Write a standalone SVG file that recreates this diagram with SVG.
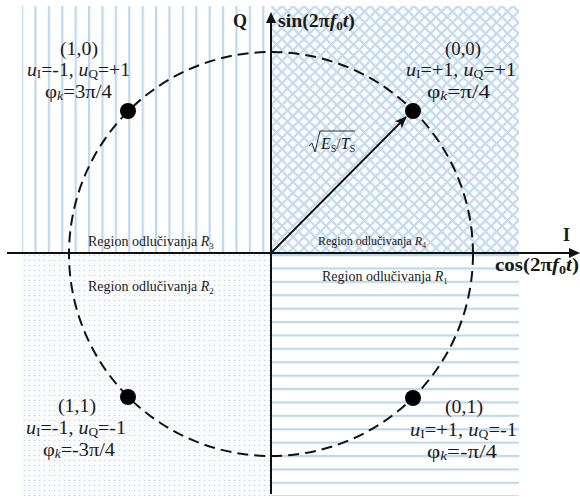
<svg xmlns="http://www.w3.org/2000/svg" width="580" height="499" viewBox="0 0 580 499">
<style>
text{font-family:"Liberation Serif","Times New Roman",serif;fill:#1a1a1a}
.lbl{font-size:18px}
.reg{font-size:14px}
.ax{font-weight:bold;font-size:18px}
.axis{stroke:#111;stroke-width:2;fill:none}
.circ{stroke:#111;stroke-width:2;fill:none;stroke-dasharray:11 6}
.dot{fill:#000}
</style>
<defs>
<pattern id="vs" patternUnits="userSpaceOnUse" x="21" y="0" width="13.4" height="10"><rect x="0" y="0" width="2.2" height="10" fill="#c0d8ec"/></pattern>
<pattern id="hs" patternUnits="userSpaceOnUse" x="0" y="254" width="10" height="13.4"><rect x="0" y="0" width="10" height="2.2" fill="#c0d8ec"/></pattern>
<pattern id="cr" patternUnits="userSpaceOnUse" x="271" y="6" width="11" height="11"><rect width="11" height="11" fill="#fafcfe"/><path d="M-1,-1 L12,12 M12,-1 L-1,12" stroke="#c6dbee" stroke-width="2.2"/></pattern>
<pattern id="dt" patternUnits="userSpaceOnUse" x="22" y="253" width="5" height="5"><rect width="5" height="5" fill="#fbfcfd"/><circle cx="2.5" cy="2.5" r="0.8" fill="#cdd6de"/></pattern>
<marker id="ah" markerWidth="12" markerHeight="10" refX="11" refY="5" orient="auto" markerUnits="userSpaceOnUse"><path d="M0,0 L12,5 L0,10 L3,5 Z" fill="#111"/></marker>
</defs>
<g id="regions">
<rect x="22" y="6" width="249" height="247" fill="#fff"/>
<rect x="22" y="6" width="249" height="247" fill="url(#vs)"/>
<rect x="271" y="6" width="248" height="247" fill="url(#cr)"/>
<rect x="22" y="253" width="249" height="243" fill="url(#dt)"/>
<rect x="271" y="253" width="248" height="243" fill="#fff"/>
<rect x="271" y="253" width="248" height="243" fill="url(#hs)"/>
</g>
<g id="axes">
<line class="axis" x1="271" y1="494" x2="271" y2="20"/>
<path d="M271,12 L266,23 L276,23 Z" fill="#111"/>
<line class="axis" x1="7" y1="253" x2="572" y2="253"/>
<path d="M580,253 L569,248 L569,258 Z" fill="#111"/>
<text class="ax" x="233" y="27">Q</text>
<text class="ax" x="278" y="27" textLength="77" lengthAdjust="spacingAndGlyphs">sin(2π<tspan font-style="italic">f</tspan><tspan font-size="12" dy="3">0</tspan><tspan font-style="italic" dy="-3">t</tspan>)</text>
<text class="ax" x="563" y="241">I</text>
<text class="ax" x="495" y="271" textLength="84" lengthAdjust="spacingAndGlyphs">cos(2π<tspan font-style="italic">f</tspan><tspan font-size="12" dy="3">0</tspan><tspan font-style="italic" dy="-3">t</tspan>)</text>
</g>
<circle class="circ" cx="271" cy="254" r="202"/>
<g id="connectors">
<line x1="271" y1="253" x2="406" y2="117" stroke="#111" stroke-width="1.8" marker-end="url(#ah)"/>
<g id="vec-label">
<path d="M309,146 L312,143 L315,152 L320,131 L355,131" stroke="#333" stroke-width="1" fill="none"/>
<text x="321" y="149" font-size="16"><tspan font-style="italic">E</tspan><tspan font-size="10" dy="3">S</tspan><tspan dy="-3">/</tspan><tspan font-style="italic">T</tspan><tspan font-size="10" dy="3">S</tspan></text>
</g>
</g>
<g id="p10">
<circle class="dot" cx="128" cy="111" r="8"/>
<text class="lbl" x="79" y="55" text-anchor="middle" textLength="38" lengthAdjust="spacingAndGlyphs">(1,0)</text>
<text class="lbl" x="78.5" y="76" text-anchor="middle" textLength="103" lengthAdjust="spacingAndGlyphs"><tspan font-style="italic">u</tspan><tspan font-size="12" dy="2">I</tspan><tspan dy="-2">=-1, </tspan><tspan font-style="italic">u</tspan><tspan font-size="12" dy="2">Q</tspan><tspan dy="-2">=+1</tspan></text>
<text class="lbl" x="78.5" y="98" text-anchor="middle" textLength="67" lengthAdjust="spacingAndGlyphs">φ<tspan font-size="12" font-style="italic" dy="2">k</tspan><tspan dy="-2">=3π/4</tspan></text>
</g>
<g id="p00">
<circle class="dot" cx="413" cy="111" r="8"/>
<text class="lbl" x="463" y="55" text-anchor="middle" textLength="36" lengthAdjust="spacingAndGlyphs">(0,0)</text>
<text class="lbl" x="461" y="76" text-anchor="middle" textLength="110" lengthAdjust="spacingAndGlyphs"><tspan font-style="italic">u</tspan><tspan font-size="12" dy="2">I</tspan><tspan dy="-2">=+1, </tspan><tspan font-style="italic">u</tspan><tspan font-size="12" dy="2">Q</tspan><tspan dy="-2">=+1</tspan></text>
<text class="lbl" x="458.5" y="98" text-anchor="middle" textLength="63" lengthAdjust="spacingAndGlyphs">φ<tspan font-size="12" font-style="italic" dy="2">k</tspan><tspan dy="-2">=π/4</tspan></text>
</g>
<g id="p11">
<circle class="dot" cx="128" cy="397" r="8"/>
<text class="lbl" x="77" y="412" text-anchor="middle" textLength="38" lengthAdjust="spacingAndGlyphs">(1,1)</text>
<text class="lbl" x="76" y="434" text-anchor="middle" textLength="100" lengthAdjust="spacingAndGlyphs"><tspan font-style="italic">u</tspan><tspan font-size="12" dy="2">I</tspan><tspan dy="-2">=-1, </tspan><tspan font-style="italic">u</tspan><tspan font-size="12" dy="2">Q</tspan><tspan dy="-2">=-1</tspan></text>
<text class="lbl" x="79" y="456" text-anchor="middle" textLength="72" lengthAdjust="spacingAndGlyphs">φ<tspan font-size="12" font-style="italic" dy="2">k</tspan><tspan dy="-2">=-3π/4</tspan></text>
</g>
<g id="p01">
<circle class="dot" cx="413" cy="398" r="8"/>
<text class="lbl" x="464" y="413" text-anchor="middle" textLength="38" lengthAdjust="spacingAndGlyphs">(0,1)</text>
<text class="lbl" x="463.5" y="436" text-anchor="middle" textLength="107" lengthAdjust="spacingAndGlyphs"><tspan font-style="italic">u</tspan><tspan font-size="12" dy="2">I</tspan><tspan dy="-2">=+1, </tspan><tspan font-style="italic">u</tspan><tspan font-size="12" dy="2">Q</tspan><tspan dy="-2">=-1</tspan></text>
<text class="lbl" x="462" y="458" text-anchor="middle" textLength="70" lengthAdjust="spacingAndGlyphs">φ<tspan font-size="12" font-style="italic" dy="2">k</tspan><tspan dy="-2">=-π/4</tspan></text>
</g>
<g id="region-labels">
<text class="reg" x="88" y="246">Region odlučivanja <tspan font-style="italic">R</tspan><tspan font-size="9" dy="3">3</tspan></text>
<text class="reg" x="318" y="245" style="font-size:12px">Region odlučivanja <tspan font-style="italic">R</tspan><tspan font-size="8" dy="3">4</tspan></text>
<text class="reg" x="88" y="291">Region odlučivanja <tspan font-style="italic">R</tspan><tspan font-size="9" dy="3">2</tspan></text>
<text class="reg" x="322" y="281">Region odlučivanja <tspan font-style="italic">R</tspan><tspan font-size="9" dy="3">1</tspan></text>
</g>
</svg>
